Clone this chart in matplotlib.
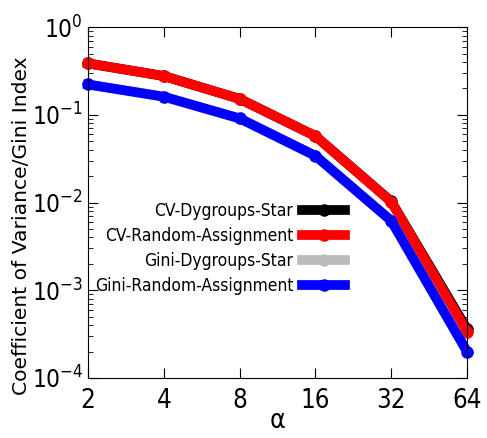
import numpy as np
import matplotlib
matplotlib.use("Agg")
import matplotlib.pyplot as plt
from matplotlib.ticker import LogLocator, NullFormatter

# ================================
# DATA
# ================================
alphas = [2, 4, 8, 16, 32, 64]
alpha_labels = ["2", "4", "8", "16", "32", "64"]

cv_dygroups_star = [0.386, 0.277, 0.152, 0.0573, 0.0103, 3.60e-4]
cv_random = [0.386, 0.277, 0.152, 0.0573, 0.0102, 3.37e-4]
gini_dygroups_star = [0.222, 0.161, 0.091, 0.0341, 0.0062, 2.00e-4]
gini_random = [0.222, 0.161, 0.091, 0.0341, 0.0062, 2.00e-4]

series = [
    ("CV-Dygroups-Star", cv_dygroups_star, "black"),
    ("CV-Random-Assignment", cv_random, "red"),
    ("Gini-Dygroups-Star", gini_dygroups_star, "#bbbbbb"),
    ("Gini-Random-Assignment", gini_random, "blue"),
]

plt.rcParams["font.family"] = ["DejaVu Sans"]
plt.rcParams["font.stretch"] = "condensed"
plt.rcParams["mathtext.fontset"] = "custom"
plt.rcParams["mathtext.rm"] = "DejaVu Sans:stretch=condensed"
plt.rcParams["mathtext.default"] = "rm"

fig = plt.figure(figsize=(4.87, 4.38), dpi=100)
ax = fig.add_axes([0.181, 0.137, 0.778, 0.801])

for label, vals, color in series:
    ax.plot(alphas, vals, color=color, linewidth=7, marker="o",
            markersize=9, markeredgewidth=0, label=label, clip_on=False)

ax.set_xscale("log", base=2)
ax.set_yscale("log")
ax.set_xlim(2, 64)
ax.set_ylim(1e-4, 1)
ax.set_xticks(alphas)
ax.set_xticklabels(alpha_labels)
ax.xaxis.set_minor_formatter(NullFormatter())
ax.yaxis.set_major_locator(LogLocator(base=10, numticks=10))
ax.yaxis.set_minor_locator(LogLocator(base=10, subs=np.arange(2, 10), numticks=20))

ax.tick_params(which="both", direction="in", top=True, right=True)
ax.tick_params(which="major", length=7, pad=6)
ax.tick_params(axis="x", which="major", labelsize=18.5, pad=7)
ax.tick_params(axis="y", which="major", labelsize=17.5, pad=3.6)
ax.tick_params(which="minor", length=3.5)
ax.tick_params(axis="x", which="minor", length=0)

ax.set_xlabel("α", fontsize=19, labelpad=-4)
ax.set_ylabel("Coefficient of Variance/Gini Index", fontsize=14.6,
              fontstretch="normal")
ax.yaxis.set_label_coords(-0.150, 0.434)

ax.legend(loc="center left", bbox_to_anchor=(-0.024, 0.37), frameon=False,
          markerfirst=False, fontsize=12.5, handlelength=2.5, labelspacing=0.4,
          handletextpad=0.5)

plt.savefig("out.png", dpi=100)
plt.close()
